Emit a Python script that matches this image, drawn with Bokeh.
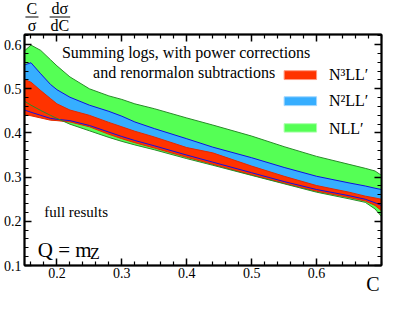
from bokeh.plotting import figure
from bokeh.models import Range1d, LinearAxis, FixedTicker, Label, Title
from bokeh.layouts import column
from bokeh.core.properties import value
from bokeh.embed import file_html
from bokeh.resources import INLINE

# ---------------- data ----------------
c_grid = [0.15, 0.16, 0.175, 0.19, 0.20, 0.22, 0.25, 0.28, 0.30, 0.32, 0.35,
          0.40, 0.44, 0.50, 0.55, 0.60, 0.65, 0.675, 0.69, 0.70]

nll_hi = [0.586, 0.599, 0.587, 0.566, 0.552, 0.527, 0.500, 0.484, 0.476, 0.466, 0.455,
          0.434, 0.418, 0.393, 0.369, 0.347, 0.329, 0.320, 0.314, 0.304]
nll_lo = [0.472, 0.463, 0.451, 0.440, 0.433, 0.420, 0.405, 0.390, 0.381, 0.373, 0.362,
          0.342, 0.327, 0.304, 0.285, 0.266, 0.251, 0.243, 0.228, 0.211]

n2ll_hi = [0.554, 0.559, 0.534, 0.510, 0.498, 0.481, 0.463, 0.449, 0.438, 0.425, 0.410,
           0.387, 0.368, 0.344, 0.322, 0.302, 0.287, 0.280, 0.275, 0.272]
n2ll_lo = [0.452, 0.447, 0.440, 0.433, 0.431, 0.428, 0.417, 0.402, 0.392, 0.383, 0.371,
           0.350, 0.334, 0.310, 0.290, 0.272, 0.258, 0.250, 0.242, 0.236]

n3ll_hi = [0.521, 0.515, 0.496, 0.478, 0.466, 0.452, 0.440, 0.424, 0.414, 0.404, 0.391,
           0.367, 0.355, 0.325, 0.302, 0.281, 0.266, 0.257, 0.253, 0.250]
n3ll_lo = [0.442, 0.439, 0.434, 0.429, 0.428, 0.425, 0.414, 0.397, 0.387, 0.378, 0.366,
           0.345, 0.329, 0.305, 0.286, 0.268, 0.254, 0.246, 0.236, 0.224]

x_major = [0.2, 0.3, 0.4, 0.5, 0.6]
x_minor = [0.16, 0.18, 0.22, 0.24, 0.26, 0.28, 0.32, 0.34, 0.36, 0.38, 0.42, 0.44,
           0.46, 0.48, 0.52, 0.54, 0.56, 0.58, 0.62, 0.64, 0.66, 0.68, 0.70]
y_major = [0.1, 0.2, 0.3, 0.4, 0.5, 0.6]
y_minor = [0.12, 0.14, 0.16, 0.18, 0.22, 0.24, 0.26, 0.28, 0.32, 0.34, 0.36, 0.38,
           0.42, 0.44, 0.46, 0.48, 0.52, 0.54, 0.56, 0.58, 0.62]

series_names = ["N\u00b3LL\u2032", "N\u00b2LL\u2032", "NLL\u2032"]
fill_colors = ["#FF3300", "#36AEFF", "#55FF55"]
edge_colors = ["#E02A00", "#1010E0", "#2A8A2A"]
swatch_edges = ["#FF9A80", "#A0D6FF", "#AAFFAA"]

X0, X1, Y0, Y1 = 0.15, 0.70, 0.1, 0.623
SERIF = "Liberation Serif"
W = 383
STRIP_H = 33
MAIN_H = 301 - STRIP_H

# ---------------- y-axis title strip: (C / sigma) (d sigma / dC) ----------------
strip = figure(width=W, height=STRIP_H, x_range=Range1d(0, W), y_range=Range1d(STRIP_H, 0),
               output_backend="svg", toolbar_location=None, x_axis_type=None,
               y_axis_type=None, min_border=0, min_border_left=0, min_border_right=0,
               min_border_top=0, min_border_bottom=0)
strip.outline_line_color = None
strip.xgrid.visible = False
strip.ygrid.visible = False
frac_num = ["C", "d\u03c3"]
frac_den = ["\u03c3", "dC"]
frac_cx = [8, 38]
frac_hw = [7, 11]
strip.text(x=frac_cx, y=[8, 8], text=frac_num, text_font=value(SERIF),
           text_font_size=value("16px"), text_align="center", text_baseline="middle",
           text_color="black")
strip.text(x=frac_cx, y=[25, 25], text=frac_den, text_font=value(SERIF),
           text_font_size=value("16px"), text_align="center", text_baseline="middle",
           text_color="black")
strip.segment(x0=[c - h for c, h in zip(frac_cx, frac_hw)], y0=[16.5, 16.5],
              x1=[c + h for c, h in zip(frac_cx, frac_hw)], y1=[16.5, 16.5],
              line_color="black", line_width=1)

# ---------------- main plot ----------------
p = figure(width=W, height=MAIN_H, x_range=Range1d(X0, X1), y_range=Range1d(Y0, Y1),
           output_backend="svg", toolbar_location=None,
           min_border_left=21, min_border_right=2, min_border_top=1,
           min_border_bottom=36)
p.xgrid.visible = False
p.ygrid.visible = False
p.outline_line_color = "black"
p.outline_line_width = 1.5
p.background_fill_color = "white"
p.border_fill_color = "white"

bottom_ax = p.below[0]
left_ax = p.left[0]


def style_axis(ax, major, minor, labels=True, standoff=3):
    ax.ticker = FixedTicker(ticks=major, minor_ticks=minor)
    ax.axis_line_width = 2
    ax.axis_line_color = "black"
    ax.major_tick_in = 7
    ax.major_tick_out = 0
    ax.minor_tick_in = 4
    ax.minor_tick_out = 0
    ax.major_tick_line_width = 1.5
    ax.minor_tick_line_width = 1.2
    if labels:
        ax.major_label_text_font = SERIF
        ax.major_label_text_font_size = "14px"
        ax.major_label_text_color = "black"
        ax.major_label_standoff = standoff
    else:
        ax.major_label_text_font_size = "0px"
        ax.major_label_text_color = None
        ax.major_label_standoff = 0


style_axis(bottom_ax, x_major, x_minor, standoff=2)
style_axis(left_ax, y_major, y_minor)
top_ax = LinearAxis()
style_axis(top_ax, x_major, x_minor, labels=False)
p.add_layout(top_ax, "above")
right_ax = LinearAxis()
style_axis(right_ax, y_major, y_minor, labels=False)
p.add_layout(right_ax, "right")

# x-axis title "C" at the right end, below the axis
p.add_layout(Title(text="C", align="right", text_font=SERIF, text_font_size="20px",
                   text_font_style="normal", text_color="black", standoff=-20,
                   offset=2), "below")

# bands: NLL' (back), N2LL', N3LL' (front)
for lo, hi, k in [(nll_lo, nll_hi, 2), (n2ll_lo, n2ll_hi, 1), (n3ll_lo, n3ll_hi, 0)]:
    p.varea(x=c_grid, y1=lo, y2=hi, fill_color=fill_colors[k])
for lo, hi, k in [(n3ll_lo, n3ll_hi, 0), (n2ll_lo, n2ll_hi, 1), (nll_lo, nll_hi, 2)]:
    p.line(c_grid, lo, line_color=edge_colors[k], line_width=1)
    p.line(c_grid, hi, line_color=edge_colors[k], line_width=1)

# legend (manual)
sw_top = [0.541, 0.482, 0.421]
sw_bot = [0.521, 0.462, 0.402]
lab_y = [0.532, 0.473, 0.411]
for k in range(3):
    p.quad(left=0.550, right=0.600, bottom=sw_bot[k], top=sw_top[k],
           fill_color=fill_colors[k], line_color=swatch_edges[k], line_width=1)
    p.add_layout(Label(x=0.619, y=lab_y[k], text=series_names[k], text_font=SERIF,
                       text_font_size="16px", text_baseline="middle", text_align="left",
                       text_color="black"))

# texts inside the frame
p.add_layout(Label(x=0.399, y=0.582, text="Summing logs, with power corrections",
                   text_font=SERIF, text_font_size="16px", text_align="center",
                   text_baseline="middle", text_color="black"))
p.add_layout(Label(x=0.396, y=0.536, text="and renormalon subtractions",
                   text_font=SERIF, text_font_size="16px", text_align="center",
                   text_baseline="middle", text_color="black"))
p.add_layout(Label(x=0.2295, y=0.2205, text="full results", text_font=SERIF,
                   text_font_size="15px", text_align="center", text_baseline="middle",
                   text_color="black"))
p.add_layout(Label(x=0.1705, y=0.134, text="Q = m", text_font=SERIF,
                   text_font_size="21px", text_align="left", text_baseline="alphabetic",
                   text_color="black"))
p.add_layout(Label(x=0.251, y=0.127, text="Z", text_font=SERIF,
                   text_font_size="16px", text_align="left", text_baseline="alphabetic",
                   text_color="black"))

layout = column(strip, p, spacing=0)
open("out.html", "w").write(file_html(layout, INLINE))
